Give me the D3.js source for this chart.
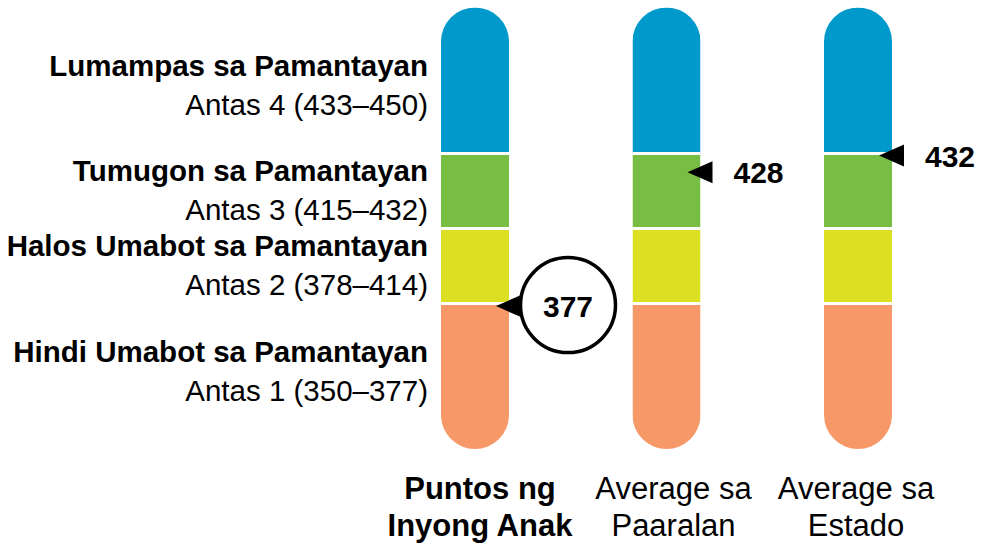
<!DOCTYPE html>
<html>
<head>
  <meta charset="utf-8">
  <title>Antas ng Puntos</title>
  <script src="https://d3js.org/d3.v7.min.js"></script>
  <style>
    body { margin: 0; background: #fff; }
    text { font-family: "Liberation Sans", Arial, sans-serif; fill: #000; }
  </style>
</head>
<body>
  <svg id="chart"></svg>

  <script>
    // mga antas (mula sa pinakamababa)
    const levelNames = ['Hindi Umabot sa Pamantayan', 'Halos Umabot sa Pamantayan', 'Tumugon sa Pamantayan', 'Lumampas sa Pamantayan'];
    const levelSubs = ['Antas 1 (350–377)', 'Antas 2 (378–414)', 'Antas 3 (415–432)', 'Antas 4 (433–450)'];
    const levelLow = [350, 378, 415, 433];
    const levelHigh = [377, 414, 432, 450];
    const levelColors = ['#f79868', '#dcdf22', '#78be44', '#0099cc'];

    // mga bar
    const barTitles = [['Puntos ng', 'Inyong Anak'], ['Average sa', 'Paaralan'], ['Average sa', 'Estado']];
    const barBold = [true, false, false];
    const barScores = [377, 428, 432];

    const width = 989, height = 551;
    const barW = 68;

    const svg = d3.select('#chart')
      .attr('width', width)
      .attr('height', height);

    // piecewise scale: gitnang antas ay 75px, ang dulo ay may kasamang bilog na takip
    const bounds = [levelLow[0] - 0.5, ...levelHigh.map(d => d + 0.5)];
    const y = d3.scaleLinear()
      .domain(bounds)
      .range([449, 303.5, 228.5, 153.5, 7.5]);

    const x = d3.scalePoint()
      .domain(d3.range(barScores.length))
      .range([475, 858]);

    // clip para sa hugis-pill
    const defs = svg.append('defs');
    defs.append('clipPath')
      .attr('id', 'pill')
      .append('rect')
      .attr('x', -barW / 2)
      .attr('y', y(bounds[4]))
      .attr('width', barW)
      .attr('height', y(bounds[0]) - y(bounds[4]))
      .attr('rx', barW / 2)
      .attr('ry', barW / 2);

    const bars = svg.selectAll('.bar')
      .data(barScores)
      .enter()
      .append('g')
      .attr('class', 'bar')
      .attr('transform', (d, i) => `translate(${x(i)},0)`);

    const inner = bars.append('g').attr('clip-path', 'url(#pill)');

    inner.selectAll('rect.seg')
      .data(levelColors.map((c, i) => ({ c, lo: bounds[i], hi: bounds[i + 1] })))
      .enter()
      .append('rect')
      .attr('class', 'seg')
      .attr('x', -barW / 2)
      .attr('y', d => y(d.hi))
      .attr('width', barW)
      .attr('height', d => y(d.lo) - y(d.hi))
      .attr('fill', d => d.c);

    // puting guhit sa pagitan ng mga antas
    inner.selectAll('rect.gap')
      .data(bounds.slice(1, 4))
      .enter()
      .append('rect')
      .attr('class', 'gap')
      .attr('x', -barW / 2 - 1)
      .attr('y', d => y(d) - 1.5)
      .attr('width', barW + 2)
      .attr('height', 3)
      .attr('fill', '#fff');

    // mga pananda (arrow)
    bars.append('path')
      .attr('d', d => {
        const yy = y(d), r = barW / 2;
        return `M${r - 13},${yy} L${r + 12},${yy - 11} L${r + 12},${yy + 11} Z`;
      })
      .attr('fill', '#000');

    // bilog para sa puntos ng anak
    bars.filter((d, i) => i === 0)
      .append('circle')
      .attr('cx', barW / 2 + 59)
      .attr('cy', d => y(d) - 1)
      .attr('r', 47.5)
      .attr('fill', '#fff')
      .attr('stroke', '#000')
      .attr('stroke-width', 3.5);

    bars.append('text')
      .attr('x', (d, i) => i === 0 ? barW / 2 + 59 : barW / 2 + 33)
      .attr('y', d => y(d) + 11)
      .attr('text-anchor', (d, i) => i === 0 ? 'middle' : 'start')
      .style('font-size', '30px')
      .style('font-weight', 'bold')
      .text(d => d);

    // mga label ng antas sa kaliwa
    const labels = svg.selectAll('.lvl')
      .data(levelNames.map((n, i) => ({ n, s: levelSubs[i], i })))
      .enter()
      .append('g')
      .attr('class', 'lvl')
      .attr('transform', d => {
        let c = (y(bounds[d.i]) + y(bounds[d.i + 1])) / 2;
        if (d.i === 3) c += 5.5;
        if (d.i === 0) c -= 4;
        return `translate(428,${c})`;
      });

    labels.append('text')
      .attr('y', -10)
      .attr('text-anchor', 'end')
      .style('font-size', '29.5px')
      .style('font-weight', 'bold')
      .text(d => d.n);

    labels.append('text')
      .attr('y', 29)
      .attr('text-anchor', 'end')
      .style('font-size', '29.5px')
      .text(d => d.s);

    // mga pamagat sa ibaba
    const titles = svg.selectAll('.title')
      .data(barTitles)
      .enter()
      .append('text')
      .attr('class', 'title')
      .attr('text-anchor', 'middle')
      .style('font-size', '31px')
      .style('font-weight', (d, i) => barBold[i] ? 'bold' : 'normal');

    titles.selectAll('tspan')
      .data((d, i) => d.map(t => ({ t, i })))
      .enter()
      .append('tspan')
      .attr('x', d => x(d.i) + (d.i === 0 ? 5 : d.i === 1 ? 7 : -2))
      .attr('y', (d, j) => j === 0 ? 499 : 536)
      .text(d => d.t);
  </script>
</body>
</html>
